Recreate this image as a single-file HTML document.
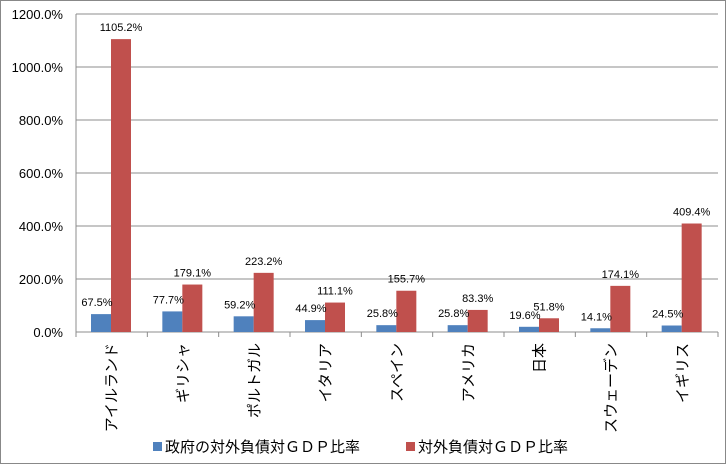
<!DOCTYPE html>
<html><head><meta charset="utf-8"><style>
body{margin:0;background:#fff;}
svg{font-family:"Liberation Sans","Noto Sans CJK JP",sans-serif;}
</style></head><body>
<svg id="chart" width="726" height="464" xmlns="http://www.w3.org/2000/svg">
<rect x="0.5" y="0.5" width="725" height="463" fill="#fff" stroke="#888"/>
<g id="grid"></g><g id="bars"></g><g id="labels"></g>
<g>
<rect x="153" y="442" width="9" height="9" fill="#4f81bd"/>
<text x="165" y="452" font-size="15">政府の対外負債対ＧＤＰ比率</text>
<rect x="406" y="442" width="9" height="9" fill="#c0504d"/>
<text x="418" y="452" font-size="15">対外負債対ＧＤＰ比率</text>
</g>
</svg>
<script>
const categories=["アイルランド","ギリシャ","ポルトガル","イタリア","スペイン","アメリカ","日本","スウェーデン","イギリス"];
const govValues=[67.5,77.7,59.2,44.9,25.8,25.8,19.6,14.1,24.5];
const totalValues=[1105.2,179.1,223.2,111.1,155.7,83.3,51.8,174.1,409.4];
const yTicks=[0,200,400,600,800,1000,1200];
const NS="http://www.w3.org/2000/svg";
const x0=76,x1=718,yBase=332,yTop=14,yMax=1200;
const cw=(x1-x0)/categories.length;
const y=v=>yBase-(v/yMax)*(yBase-yTop);
const xc=i=>x0+i*cw;
function mk(tag,attrs,parent,text){const e=document.createElementNS(NS,tag);for(const k in attrs)e.setAttribute(k,attrs[k]);if(text!==undefined)e.textContent=text;parent.appendChild(e);return e;}
const grid=document.getElementById('grid'),bars=document.getElementById('bars'),labels=document.getElementById('labels');
yTicks.forEach(t=>{
  if(t>0){const l=mk('line',{x1:x0,x2:x1,y1:y(t),y2:y(t),stroke:'#8c8c8c'},grid);
  
  }
  const tx=mk('text',{x:63,y:y(t)+5,'text-anchor':'end','font-size':'13'},grid,t.toFixed(1)+'%');
  
  
});
const ax=mk('line',{x1:x0,x2:x1,y1:yBase,y2:yBase,stroke:'#8c8c8c'},grid);


const ay=mk('line',{x1:x0,x2:x0,y1:yTop,y2:yBase,stroke:'#8c8c8c'},grid);


for(let i=0;i<=categories.length;i++){
  const tk=mk('line',{x1:xc(i),x2:xc(i),y1:yBase,y2:yBase+5,stroke:'#8c8c8c'},grid);
  
  
}
categories.forEach((c,i)=>{
  const bx=xc(i)+15;
  const b1=mk('rect',{x:bx,y:y(govValues[i]),width:20,height:yBase-y(govValues[i]),fill:'#4f81bd'},bars);
  
  
  const b2=mk('rect',{x:bx+20,y:y(totalValues[i]),width:20,height:yBase-y(totalValues[i]),fill:'#c0504d'},bars);
  
  
  const l1=mk('text',{x:bx+6,y:y(govValues[i])-8,'text-anchor':'middle','font-size':'11'},labels,govValues[i].toFixed(1)+'%');
  
  
  const l2=mk('text',{x:bx+30,y:y(totalValues[i])-8,'text-anchor':'middle','font-size':'11'},labels,totalValues[i].toFixed(1)+'%');
  
  
  const cx=xc(i)+cw/2+5, cy=343;
  const cl=mk('text',{x:cx,y:cy,'text-anchor':'end','font-size':'15',transform:`rotate(-90 ${cx} ${cy})`},labels,c);
  
  
});
</script>
</body></html>
